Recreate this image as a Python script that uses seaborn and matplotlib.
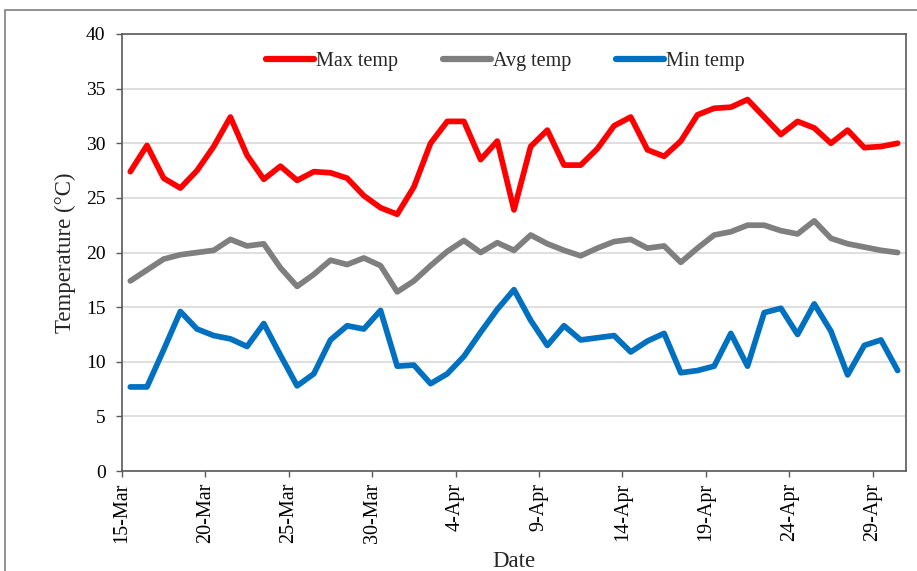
import matplotlib
matplotlib.use("Agg")
import matplotlib.pyplot as plt
import seaborn as sns
import pandas as pd
import numpy as np
from matplotlib.patches import Rectangle

# Daily temperatures, 15 March to 30 April
dates = pd.date_range("2021-03-15", "2021-04-30", freq="D")

max_temp = [27.4, 29.8, 26.8, 25.9, 27.5, 29.7, 32.4, 28.9, 26.7, 27.9,
            26.6, 27.4, 27.3, 26.8, 25.2, 24.1, 23.5, 26.0, 30.0, 32.0,
            32.0, 28.5, 30.2, 23.9, 29.7, 31.2, 28.0, 28.0, 29.5, 31.6,
            32.4, 29.4, 28.8, 30.2, 32.6, 33.2, 33.3, 34.0, 32.4, 30.8,
            32.0, 31.4, 30.0, 31.2, 29.6, 29.7, 30.0]
avg_temp = [17.4, 18.4, 19.4, 19.8, 20.0, 20.2, 21.2, 20.6, 20.8, 18.6,
            16.9, 18.0, 19.3, 18.9, 19.5, 18.8, 16.4, 17.4, 18.8, 20.1,
            21.1, 20.0, 20.9, 20.2, 21.6, 20.8, 20.2, 19.7, 20.4, 21.0,
            21.2, 20.4, 20.6, 19.1, 20.4, 21.6, 21.9, 22.5, 22.5, 22.0,
            21.7, 22.9, 21.3, 20.8, 20.5, 20.2, 20.0]
min_temp = [7.7, 7.7, 11.1, 14.6, 13.0, 12.4, 12.1, 11.4, 13.5, 10.6,
            7.8, 8.9, 12.0, 13.3, 13.0, 14.7, 9.6, 9.7, 8.0, 8.9,
            10.5, 12.7, 14.8, 16.6, 13.8, 11.5, 13.3, 12.0, 12.2, 12.4,
            10.9, 11.9, 12.6, 9.0, 9.2, 9.6, 12.6, 9.6, 14.5, 14.9,
            12.5, 15.3, 12.8, 8.8, 11.5, 12.0, 9.2]

series_names = ["Max temp", "Avg temp", "Min temp"]
series_colors = ["#FF0000", "#7F7F7F", "#0070C0"]
y_ticks = [0, 5, 10, 15, 20, 25, 30, 35, 40]

day_index = np.arange(len(dates))
df = pd.DataFrame({
    "day": np.tile(day_index, 3),
    "temp": max_temp + avg_temp + min_temp,
    "series": np.repeat(series_names, len(dates)),
})

sns.set_style("white")
plt.rcParams["font.family"] = ["Liberation Serif", "DejaVu Serif"]

fig = plt.figure(figsize=(9.17, 5.71), dpi=100)
ax = fig.add_axes([0.133, 0.175, 0.855, 0.7655])

sns.lineplot(data=df, x="day", y="temp", hue="series",
             hue_order=series_names, palette=series_colors,
             linewidth=4.1, ax=ax, legend=True,
             solid_joinstyle="round", solid_capstyle="round")

# chart-area frame (open towards the right and bottom edges)
fig.patches.append(Rectangle((0.0055, -0.1), 1.2, 0.1 + 0.9825,
                             transform=fig.transFigure, fill=False,
                             edgecolor="#7F7F7F", linewidth=1.2))

ax.set_xlim(-0.5, len(dates) - 0.5)
ax.set_ylim(0, 40)
ax.set_yticks(y_ticks)
ax.yaxis.grid(True, color="#D9D9D9", linewidth=1.2)
ax.set_axisbelow(True)

tick_pos = np.arange(0, len(dates), 5)
ax.set_xticks(tick_pos - 0.5)
ax.set_xticklabels([f"{d.day}-{d.strftime('%b')}" for d in dates[tick_pos]],
                   rotation=90)

for s in ax.spines.values():
    s.set_color("#595959")
    s.set_linewidth(1.2)

ax.tick_params(axis="both", which="major", direction="out", length=4.3,
               width=1.0, color="#595959", labelcolor="black",
               left=True, bottom=True)
ax.tick_params(axis="y", labelsize=14, pad=7.5)
ax.tick_params(axis="x", labelsize=14.5, pad=4)

ax.set_xlabel("Date", fontsize=16.5, va="center")
ax.set_ylabel("Temperature (\u00b0C)", fontsize=16.5, va="center")
ax.xaxis.set_label_coords(0.5, -0.206)
ax.yaxis.set_label_coords(-0.0727, 0.5)

handles, labels = ax.get_legend_handles_labels()
leg = ax.legend(handles, labels, loc="center", ncol=3, frameon=False,
                fontsize=14.5, handlelength=2.4, handletextpad=0.1,
                columnspacing=2.2, bbox_to_anchor=(0.489, 0.936))
for line in leg.get_lines():
    line.set_linewidth(4.5)
    line.set_solid_capstyle("round")

fig.savefig("out.png", dpi=100)
